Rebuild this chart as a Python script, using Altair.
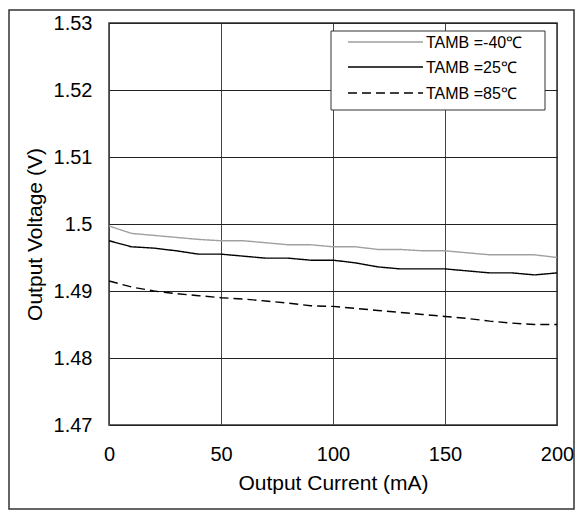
import altair as alt
import pandas as pd

current = [0, 10, 20, 30, 40, 50, 60, 70, 80, 90, 100, 110, 120, 130, 140, 150, 160, 170, 180, 190, 200]
v_m40 = [1.4997, 1.4986, 1.4983, 1.4980, 1.4977, 1.4975, 1.4975, 1.4972, 1.4969, 1.4969, 1.4966,
         1.4966, 1.4962, 1.4962, 1.4960, 1.4960, 1.4957, 1.4954, 1.4954, 1.4954, 1.4950]
v_25 = [1.4975, 1.4966, 1.4964, 1.4960, 1.4955, 1.4955, 1.4952, 1.4949, 1.4949, 1.4946, 1.4946,
        1.4942, 1.4936, 1.4933, 1.4933, 1.4933, 1.4930, 1.4927, 1.4927, 1.4924, 1.4927]
v_85 = [1.4915, 1.4906, 1.4900, 1.4896, 1.4893, 1.4890, 1.4888, 1.4885, 1.4882, 1.4878, 1.4877,
        1.4874, 1.4871, 1.4868, 1.4865, 1.4862, 1.4859, 1.4855, 1.4852, 1.4850, 1.4850]
series = ["TAMB =-40℃", "TAMB =25℃", "TAMB =85℃"]
x_ticks = [0, 50, 100, 150, 200]
y_ticks = [1.47, 1.48, 1.49, 1.50, 1.51, 1.52, 1.53]

colors = ["#a0a0a0", "#000000", "#000000"]
dashes = [[1, 0], [1, 0], [9, 5]]

FONT = "Liberation Sans"

rows = []
for name, vals in zip(series, [v_m40, v_25, v_85]):
    for c, v in zip(current, vals):
        rows.append({"current": c, "voltage": v, "series": name})
df = pd.DataFrame(rows)

PL, PR, PT, PB = 101, 18, 15, 88
W, H = 567 - PL - PR, 402

lines = alt.Chart(df).mark_line(strokeWidth=1.4, clip=True).encode(
    x=alt.X("current:Q", title="Output Current (mA)",
            scale=alt.Scale(domain=[0, 200], nice=False),
            axis=alt.Axis(values=x_ticks, format="d", ticks=False, domain=False,
                          grid=True, gridColor="#444444", gridWidth=1,
                          labelFont=FONT, labelFontSize=20, labelColor="#000",
                          labelPadding=19, labelFlush=False,
                          titleFont=FONT, titleFontSize=21, titleFontWeight="normal",
                          titleColor="#000", titlePadding=8)),
    y=alt.Y("voltage:Q", title="Output Voltage (V)",
            scale=alt.Scale(domain=[1.47, 1.53], nice=False, zero=False),
            axis=alt.Axis(values=y_ticks, format="~g", ticks=False, domain=False,
                          grid=True, gridColor="#222222", gridWidth=1,
                          labelFont=FONT, labelFontSize=20, labelColor="#000",
                          labelPadding=17, labelFlush=False,
                          titleFont=FONT, titleFontSize=21, titleFontWeight="normal",
                          titleColor="#000", titlePadding=8, titleY=211)),
    color=alt.Color("series:N", scale=alt.Scale(domain=series, range=colors), legend=None),
    strokeDash=alt.StrokeDash("series:N", scale=alt.Scale(domain=series, range=dashes), legend=None),
)

# legend box (layout decoration)
legend_box = alt.Chart(pd.DataFrame({"a": [0]})).mark_rect(
    fill="white", stroke="#333333", strokeWidth=1
).encode(x=alt.value(W - 226), x2=alt.value(W - 12), y=alt.value(8), y2=alt.value(87))

legend_layers = []
row_y = [19, 44, 70]
for i, name in enumerate(series):
    ldf = pd.DataFrame({"series": [name]})
    legend_layers.append(
        alt.Chart(ldf).mark_rule(color=colors[i], strokeWidth=1.4, strokeDash=dashes[i]).encode(
            x=alt.value(W - 209), x2=alt.value(W - 134), y=alt.value(row_y[i]))
    )
    legend_layers.append(
        alt.Chart(ldf).mark_text(align="left", baseline="middle", font=FONT, fontSize=16,
                                 color="#000").encode(
            x=alt.value(W - 131), y=alt.value(row_y[i] + 1), text="series:N")
    )

# outer frame around the whole figure (layout decoration)
frame = alt.Chart(pd.DataFrame({"a": [0]})).mark_rect(
    fill=None, stroke="#333333", strokeWidth=1.5, clip=False
).encode(x=alt.value(-PL + 1), x2=alt.value(W + PR - 1), y=alt.value(-PT + 2), y2=alt.value(H + 84))

chart = alt.layer(lines, legend_box, *legend_layers, frame).properties(
    width=W, height=H,
    autosize=alt.AutoSizeParams(type="none"),
    padding={"left": PL, "top": PT, "right": PR, "bottom": PB},
    background="white",
).configure_view(stroke="#333333", strokeWidth=1.5)

chart.save("out.html", embed_options={"renderer": "svg", "actions": False})
